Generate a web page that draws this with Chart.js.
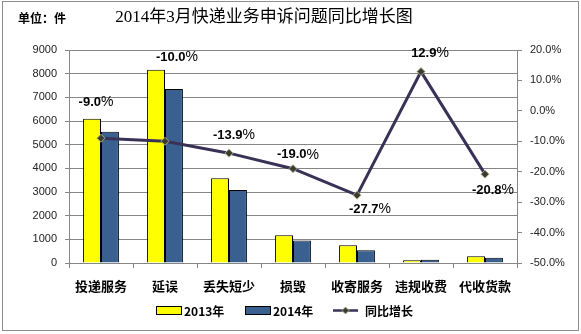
<!DOCTYPE html>
<html>
<head>
<meta charset="utf-8">
<script src="https://cdn.jsdelivr.net/npm/chart.js@4.4.0/dist/chart.umd.min.js"></script>
<style>
  html, body { margin: 0; padding: 0; background: #fff; }
  #wrap { width: 581px; height: 334px; }
</style>
</head>
<body>
<div id="wrap"><canvas id="complaintChart" width="581" height="334"></canvas></div>
<script>
const categories = ["投递服务", "延误", "丢失短少", "损毁", "收寄服务", "违规收费", "代收货款"];
const count2013 = [6100, 8170, 3580, 1170, 750, 120, 280];
const count2014 = [5550, 7350, 3080, 950, 540, 135, 222];
const growthPct = [-9.0, -10.0, -13.9, -19.0, -27.7, 12.9, -20.8];
const leftTicks = [0, 9000, 1000];
const rightTicks = [-50, 20, 10];

const CJK = '"Noto Sans CJK SC", sans-serif';
const LAT = '"Liberation Sans", Arial, sans-serif';

// hand-placed label offsets like the original workbook
const labelOffsets = [[-5, -36], [12, -84], [5, -18], [5, -14], [13, 14], [9, -18], [8, 16]];

const framePlugin = {
  id: "frame",
  beforeDraw(chart) {
    const c = chart.ctx;
    c.save();
    c.fillStyle = "#fff";
    c.fillRect(0, 0, chart.width, chart.height);
    c.strokeStyle = "#8c8c8c";
    c.lineWidth = 1;
    c.strokeRect(2.5, 1.5, 576, 329);
    c.restore();
  },
  afterDraw(chart) {
    const c = chart.ctx;
    c.save();
    c.fillStyle = "#000";
    c.textBaseline = "middle";
    c.font = "bold 12px " + CJK;
    c.textAlign = "left";
    c.fillText("单位：件", 18, 18);
    c.font = '17px "Liberation Serif", ' + CJK;
    c.textAlign = "center";
    c.fillText("2014年3月快递业务申诉问题同比增长图", 264, 18);

    // legend
    const ly = 310.5;
    c.lineWidth = 1;
    c.strokeStyle = "#000";
    c.fillStyle = "#ffff00";
    c.fillRect(156.5, ly - 4, 25, 8);
    c.strokeRect(156.5, ly - 4, 25, 8);
    c.fillStyle = "#3a6090";
    c.fillRect(245.5, ly - 4, 25, 8);
    c.strokeRect(245.5, ly - 4, 25, 8);
    c.strokeStyle = "#3a3157";
    c.lineWidth = 2.5;
    c.beginPath();
    c.moveTo(333, ly);
    c.lineTo(358, ly);
    c.stroke();
    c.fillStyle = "#3b3b30";
    c.strokeStyle = "#a8ad8a";
    c.lineWidth = 1;
    c.beginPath();
    c.moveTo(345.5, ly - 3.5);
    c.lineTo(349, ly);
    c.lineTo(345.5, ly + 3.5);
    c.lineTo(342, ly);
    c.closePath();
    c.fill();
    c.stroke();
    c.fillStyle = "#000";
    c.textAlign = "left";
    c.font = "bold 12px " + CJK;
    c.fillText("2013年", 184, ly + 1);
    c.fillText("2014年", 273, ly + 1);
    c.fillText("同比增长", 365, ly + 1);
    c.restore();
  }
};

const pctLabelPlugin = {
  id: "pctLabels",
  afterDatasetsDraw(chart) {
    const meta = chart.getDatasetMeta(2);
    const c = chart.ctx;
    c.save();
    c.fillStyle = "#000";
    c.textBaseline = "middle";
    c.textAlign = "left";
    meta.data.forEach((pt, i) => {
      const num = growthPct[i].toFixed(1);
      c.font = "bold 13px " + LAT;
      const w1 = c.measureText(num).width;
      c.font = "14px " + LAT;
      const w2 = c.measureText("%").width;
      const cx = pt.x + labelOffsets[i][0];
      const cy = pt.y + labelOffsets[i][1];
      const x0 = cx - (w1 + w2) / 2;
      c.font = "bold 13px " + LAT;
      c.fillText(num, x0, cy);
      c.font = "14px " + LAT;
      c.fillText("%", x0 + w1, cy);
    });
    c.restore();
  }
};

const ctx = document.getElementById("complaintChart").getContext("2d");
new Chart(ctx, {
  type: "bar",
  data: {
    labels: categories,
    datasets: [
      {
        label: "2013年",
        data: count2013,
        backgroundColor: "#ffff00",
        borderColor: "#000",
        borderWidth: 1,
        yAxisID: "y",
        order: 2
      },
      {
        label: "2014年",
        data: count2014,
        backgroundColor: "#3a6090",
        borderColor: "#000",
        borderWidth: 1,
        yAxisID: "y",
        order: 2
      },
      {
        type: "line",
        label: "同比增长",
        data: growthPct,
        borderColor: "#3a3157",
        borderWidth: 3,
        pointStyle: "rectRot",
        pointRadius: 4,
        pointBackgroundColor: "#3b3b30",
        pointBorderColor: "#a8ad8a",
        pointBorderWidth: 1,
        tension: 0,
        yAxisID: "y1",
        order: 0
      }
    ]
  },
  options: {
    responsive: false,
    animation: false,
    layout: { padding: { top: 50, left: 0, right: 0, bottom: 0 } },
    plugins: {
      legend: { display: false },
      tooltip: { enabled: false }
    },
    datasets: {
      bar: { categoryPercentage: 0.56, barPercentage: 1 }
    },
    scales: {
      x: {
        afterFit: s => { s.height = 71; },
        grid: { offset: true, drawOnChartArea: false, tickLength: 5, color: "#868686" },
        border: { color: "#868686" },
        ticks: { color: "#000", font: { family: CJK, size: 13, weight: "bold" }, padding: 10 }
      },
      y: {
        position: "left",
        min: leftTicks[0],
        max: leftTicks[1],
        afterFit: s => { s.width = 69; },
        ticks: {
          stepSize: leftTicks[2],
          color: "#222",
          font: { family: LAT, size: 11 },
          padding: 8,
          callback: v => String(v)
        },
        grid: { color: "#868686", tickLength: 4 },
        border: { color: "#868686" }
      },
      y1: {
        position: "right",
        min: rightTicks[0],
        max: rightTicks[1],
        afterFit: s => { s.width = 64; },
        ticks: {
          stepSize: rightTicks[2],
          color: "#222",
          font: { family: LAT, size: 11 },
          padding: 8,
          callback: v => v.toFixed(1) + "%"
        },
        grid: { drawOnChartArea: false, color: "#868686", tickLength: 5 },
        border: { color: "#868686" }
      }
    }
  },
  plugins: [framePlugin, pctLabelPlugin]
});
</script>
</body>
</html>
